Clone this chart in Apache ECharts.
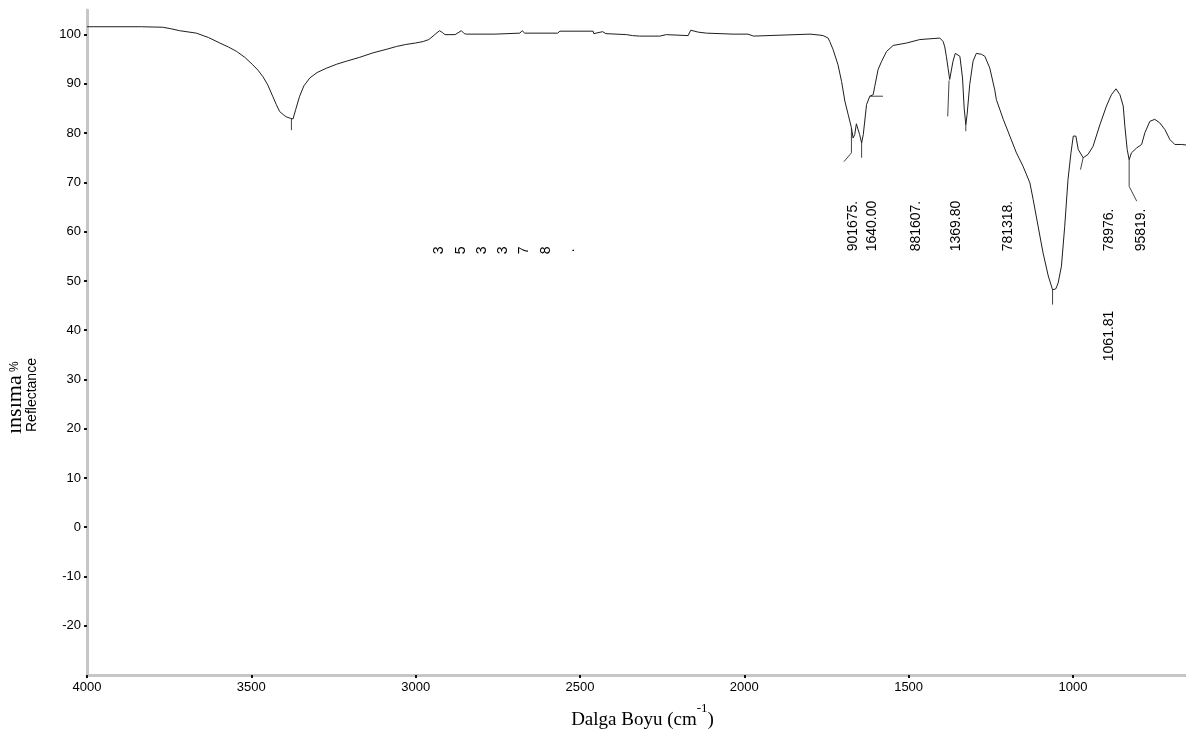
<!DOCTYPE html>
<html>
<head>
<meta charset="utf-8">
<script src="https://cdn.jsdelivr.net/npm/echarts@6/dist/echarts.min.js"></script>
<style>
  html, body { margin: 0; padding: 0; background: #fff; }
  #chart { width: 1186px; height: 735px; }
</style>
</head>
<body>
<div id="chart"></div>
<script>
// IR spectrum: wavenumber (cm-1) and reflectance (%)
const wavenumbers = [
  4000, 3930, 3842, 3838, 3834, 3770, 3745, 3718, 3667, 3630, 3596, 3570, 3545, 3520, 3496,
  3480, 3465, 3450, 3435, 3424, 3414, 3400, 3393, 3381, 3373, 3365, 3353, 3340, 3322, 3300,
  3271, 3240, 3211, 3170, 3130, 3090, 3058, 3030, 3000, 2977, 2960, 2947, 2935, 2927, 2918,
  2911, 2880, 2861, 2852, 2845, 2759, 2756, 2683, 2676, 2668, 2568, 2561, 2460, 2458, 2431,
  2421, 2358, 2340, 2318, 2257, 2237, 2171, 2163, 2140, 2115, 2034, 1989, 1985, 1972, 1968,
  1800, 1770, 1760, 1745, 1740, 1730, 1715, 1704, 1694, 1684, 1674, 1669, 1664, 1659, 1654,
  1649, 1643, 1638, 1628, 1618, 1608, 1603, 1593, 1582, 1567, 1547, 1506, 1466, 1405, 1395,
  1390, 1385, 1380, 1375, 1370, 1365, 1358, 1352, 1344, 1336, 1331, 1326, 1322, 1314, 1304,
  1294, 1288, 1278, 1268, 1253, 1238, 1233, 1212, 1192, 1172, 1152, 1131, 1121, 1106, 1091,
  1075, 1062, 1052, 1045, 1035, 1025, 1015, 1006, 999, 991, 984, 969, 954, 939, 918,
  898, 883, 869, 857, 847, 842, 835, 829, 822, 806, 791, 781, 766, 751, 736,
  720, 705, 690, 669, 656
];
const reflectance = [
  101.6, 101.6, 101.6, 101.9, 101.6, 101.5, 101.2, 100.8, 100.3, 99.4, 98.3, 97.5, 96.6, 95.4, 93.9,
  92.8, 91.5, 89.8, 87.5, 85.8, 84.4, 83.6, 83.3, 83.0, 82.9, 84.8, 87.5, 89.6, 91.2, 92.3,
  93.2, 94.0, 94.6, 95.4, 96.3, 97.0, 97.6, 98.0, 98.3, 98.6, 99.0, 99.7, 100.4, 100.8, 100.4,
  100.0, 100.0, 100.8, 100.2, 100.1, 100.1, 100.3, 100.3, 100.8, 100.3, 100.3, 100.7, 100.7, 100.2, 100.6,
  100.2, 100.0, 99.8, 99.7, 99.7, 100.0, 99.8, 100.9, 100.5, 100.3, 100.1, 100.1, 99.7, 99.7, 100.1,
  100.1, 99.9, 99.8, 99.3, 98.6, 97.0, 93.9, 90.5, 86.5, 83.8, 81.1, 79.0, 79.7, 81.9, 81.7,
  79.7, 78.0, 79.7, 85.8, 87.5, 87.8, 89.5, 92.9, 94.6, 96.6, 97.8, 98.3, 99.0, 99.3, 98.6,
  97.5, 95.5, 93.2, 90.9, 90.5, 94.6, 96.2, 96.4, 95.6, 91.2, 85.1, 81.7, 83.8, 89.9, 94.6,
  96.2, 96.3, 96.0, 95.6, 93.2, 88.8, 86.8, 82.8, 79.4, 76.0, 73.3, 69.9, 66.5, 61.1, 55.7,
  51.0, 48.2, 48.4, 49.6, 53.0, 61.1, 70.6, 76.0, 79.4, 79.4, 76.7, 75.0, 75.7, 77.3, 81.7,
  85.5, 87.8, 89.0, 87.8, 85.5, 81.4, 76.7, 74.6, 76.0, 77.0, 77.7, 80.1, 82.4, 82.8, 82.1,
  80.7, 78.7, 77.7, 77.7, 77.6
];

// Peak marker strokes (wavenumber, reflectance) running from the band down to its label
const peakLeaders = [
  [[3378, 82.9], [3378, 80.6]],
  [[1674, 81.1], [1674, 76.0], [1697, 74.2]],
  [[1643, 78.0], [1643, 75.0]],
  [[1618, 87.5], [1578, 87.5]],
  [[1377, 90.7], [1381, 83.4]],
  [[1326, 81.7], [1326, 80.4]],
  [[1062, 48.2], [1062, 45.2]],
  [[969, 75.0], [977, 72.6]],
  [[829, 74.6], [829, 69.2], [806, 66.2]]
];

// Vertical peak labels: text, wavenumber, reflectance at the text start
const peakLabelText = ['901675.', '1640.00', '881607.', '1369.80', '781318.', '78976.', '95819.', '1061.81'];
const peakLabelWave = [1668, 1612, 1478, 1356, 1197, 890, 793, 891];
const peakLabelLevel = [56.0, 56.0, 56.0, 56.0, 56.0, 56.0, 56.0, 33.7];

// Label of the O-H band, drawn one rotated character at a time
const ohLabelChars = ['3', '5', '3', '3', '7', '8', '.'];
const ohLabelWave = [2927, 2863, 2799, 2735, 2671, 2604, 2531];
const ohLabelLevel = 56.2;

const xTicks = [4000, 3500, 3000, 2500, 2000, 1500, 1000];
const yTicks = [100, 90, 80, 70, 60, 50, 40, 30, 20, 10, 0, -10, -20];

const spectrum = wavenumbers.map((w, i) => [w, reflectance[i]]);
const peakLabelPoints = peakLabelWave.map((w, i) => [w, peakLabelLevel[i]]);
const ohLabelPoints = ohLabelWave.map(w => [w, ohLabelLevel]);

const SANS = "'Liberation Sans', Arial, sans-serif";
const SERIF = "'Liberation Serif', 'Times New Roman', serif";

const chart = echarts.init(document.getElementById('chart'));

// Rotated text anchored at a data point; text content is looked up by index
function rotatedText(texts, align) {
  return function (params, api) {
    const pt = api.coord([api.value(0), api.value(1)]);
    return {
      type: 'text',
      x: pt[0],
      y: pt[1],
      rotation: Math.PI / 2,
      style: {
        text: texts[params.dataIndex],
        fill: '#000',
        font: '14px ' + SANS,
        align: align,
        verticalAlign: 'middle'
      }
    };
  };
}

chart.setOption({
  animation: false,
  backgroundColor: '#fff',
  grid: { left: 87, right: 0, top: 10, bottom: 60, containLabel: false, outerBoundsMode: 'none' },
  xAxis: {
    type: 'value',
    inverse: true,
    min: 656,
    max: 4000,
    axisLine: { show: true, onZero: false, lineStyle: { color: '#c6c6c6', width: 3 } },
    axisTick: { show: true, customValues: xTicks, length: 3, lineStyle: { color: '#111', width: 2 } },
    axisLabel: {
      customValues: xTicks, color: '#000', fontSize: 13, fontFamily: SANS, margin: 6,
      formatter: v => String(v)
    },
    splitLine: { show: false },
    name: '{t|Dalga Boyu (cm}{s|-1}{t|)}',
    nameLocation: 'middle',
    nameGap: 27,
    nameTextStyle: {
      padding: [0, 0, 0, 12],
      rich: {
        t: { fontFamily: SERIF, fontSize: 19, color: '#000', verticalAlign: 'bottom', lineHeight: 28 },
        s: { fontFamily: SERIF, fontSize: 13, color: '#000', verticalAlign: 'top', lineHeight: 28 }
      }
    }
  },
  yAxis: {
    type: 'value',
    min: -30,
    max: 105,
    axisLine: { show: true, onZero: false, lineStyle: { color: '#c6c6c6', width: 3 } },
    axisTick: { show: true, customValues: yTicks, length: 3, lineStyle: { color: '#111', width: 2 } },
    axisLabel: {
      customValues: yTicks, color: '#000', fontSize: 13, fontFamily: SANS, margin: 6,
      formatter: v => String(v)
    },
    splitLine: { show: false }
  },
  graphic: [
    {
      type: 'text',
      x: 15,
      y: 434,
      rotation: Math.PI / 2,
      style: {
        text: '{s|ınsıma} {p|%}',
        align: 'left',
        verticalAlign: 'middle',
        rich: {
          s: { font: '22px ' + SERIF, fill: '#000' },
          p: { font: '12px ' + SANS, fill: '#000' }
        }
      }
    },
    {
      type: 'text',
      x: 32,
      y: 432,
      rotation: Math.PI / 2,
      style: { text: 'Reflectance', font: '14px ' + SANS, fill: '#000', align: 'left', verticalAlign: 'middle' }
    }
  ],
  series: [
    {
      type: 'line',
      data: spectrum,
      showSymbol: false,
      smooth: false,
      silent: true,
      lineStyle: { color: '#1e1e1e', width: 1 },
      z: 3
    },
    {
      type: 'custom',
      silent: true,
      data: peakLeaders.map(seg => seg[0]),
      renderItem: function (params, api) {
        const seg = peakLeaders[params.dataIndex];
        return {
          type: 'polyline',
          shape: { points: seg.map(p => api.coord(p)) },
          style: { stroke: '#444', lineWidth: 1, fill: null }
        };
      },
      z: 2
    },
    {
      type: 'custom',
      silent: true,
      data: peakLabelPoints,
      renderItem: rotatedText(peakLabelText, 'left')
    },
    {
      type: 'custom',
      silent: true,
      data: ohLabelPoints,
      renderItem: rotatedText(ohLabelChars, 'center')
    }
  ]
});
</script>
</body>
</html>
